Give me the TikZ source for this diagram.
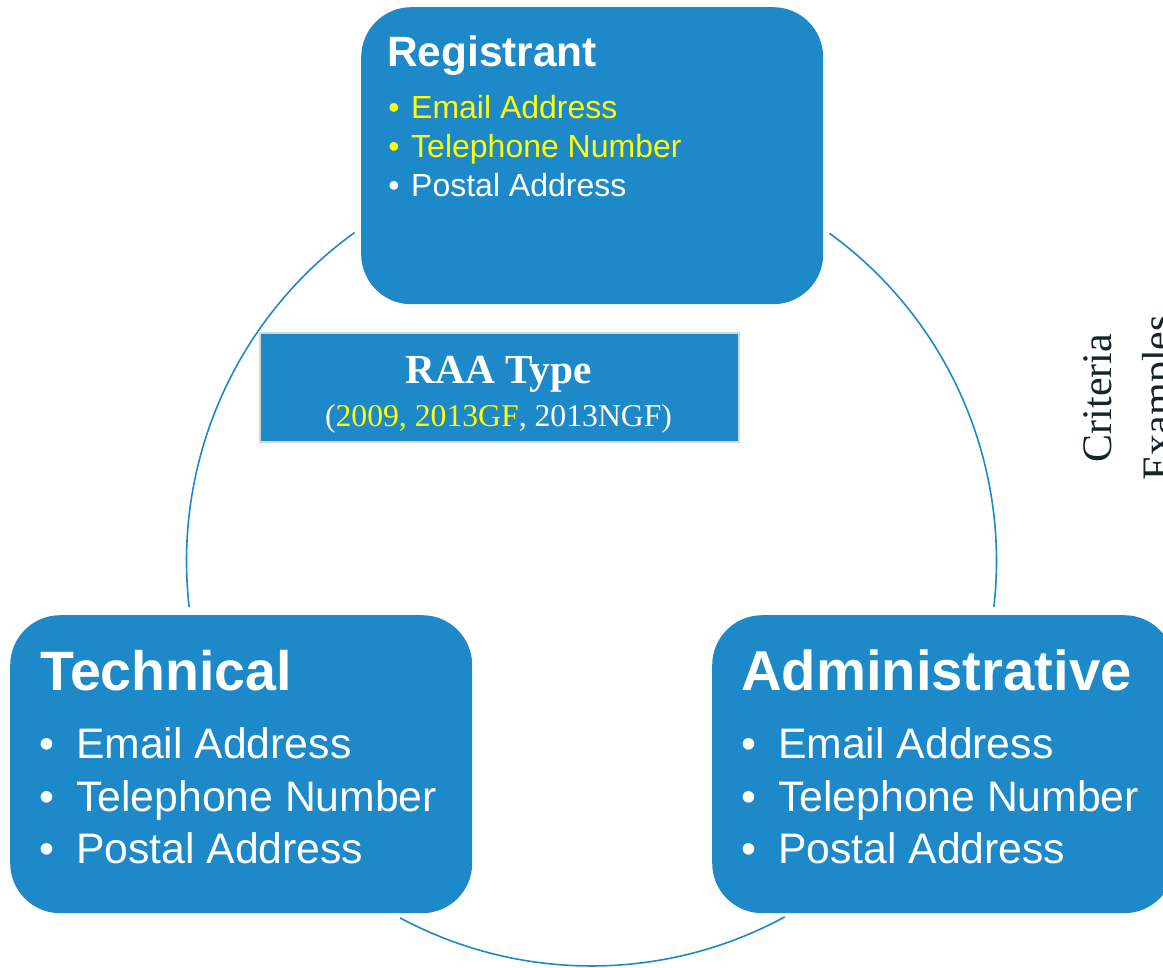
\documentclass[tikz,border=0pt]{standalone}
\usepackage{fontspec}
\setmainfont{Liberation Sans}
\newfontfamily\seriffont{Liberation Serif}
\definecolor{boxblue}{RGB}{29,137,200}
\definecolor{rim}{RGB}{214,214,214}
\definecolor{ink}{RGB}{22,36,40}
\definecolor{hl}{RGB}{255,255,0}
\tikzset{
  box/.style={fill=boxblue, draw=none, rounded corners=50pt, inner sep=0pt, anchor=north west},
  ring/.style={draw=boxblue, line width=1.6pt},
  txt/.style={text=white, inner sep=0pt, anchor=base west},
  ctxt/.style={text=white, inner sep=0pt, anchor=base},
  bul/.style={text=white, inner sep=0pt, anchor=base},
  side/.style={text=ink, inner sep=0pt, anchor=base, rotate=90, font=\seriffont\fontsize{42}{42}\selectfont}
}
\begin{document}
\begin{tikzpicture}[x=1pt,y=-1pt]
\useasboundingbox (0,0) rectangle (1163,968);
\clip (0,0) rectangle (1163,968);

% cycle ring arcs
\coordinate (c) at (591.5,561);
\path (c) ++(-125.8:405) coordinate (l1);
\path (c) ++(-54:405) coordinate (r1);
\path (c) ++(-241.8:405) coordinate (b1);
\draw[ring] (l1) arc[start angle=-125.8, end angle=-186.5, radius=405];
\draw[ring] (r1) arc[start angle=-54, end angle=6.5, radius=405];
\draw[ring] (b1) arc[start angle=-241.8, end angle=-298.5, radius=405];

% boxes
\node[box, minimum width=462pt, minimum height=297pt] (reg) at (361,7) {};
\node[box, minimum width=462pt, minimum height=298pt] (tec) at (10,615) {};
\node[box, minimum width=462pt, minimum height=298pt] (adm) at (712,615) {};

% Registrant
\begin{scope}[font=\fontsize{32}{32}\selectfont]
\node[txt, font=\bfseries\fontsize{42.4}{42.4}\selectfont] (regT) at (387,67) {Registrant};
\node[bul, text=hl] (regb1) at (394,119) {•};
\node[txt, text=hl] (reg1) at (411,119) {Email Address};
\node[bul, text=hl] (regb2) at (394,158) {•};
\node[txt, text=hl] (reg2) at (411,158) {Telephone Number};
\node[bul] (regb3) at (394,197) {•};
\node[txt] (reg3) at (411,197) {Postal Address};
\end{scope}

% Technical
\begin{scope}[font=\fontsize{42.7}{42.7}\selectfont]
\node[txt, font=\bfseries\fontsize{55.5}{55.5}\selectfont] (tecT) at (40,690) {Technical};
\node[bul] (tecb1) at (47,758) {•};
\node[txt] (tec1) at (76,758) {Email Address};
\node[bul] (tecb2) at (47,811) {•};
\node[txt] (tec2) at (76,811) {Telephone Number};
\node[bul] (tecb3) at (47,863) {•};
\node[txt] (tec3) at (76,863) {Postal Address};
\end{scope}

% Administrative
\begin{scope}[font=\fontsize{42.7}{42.7}\selectfont]
\node[txt, font=\bfseries\fontsize{56.2}{56.2}\selectfont] (admT) at (741,690) {Administrative};
\node[bul] (admb1) at (749,758) {•};
\node[txt] (adm1) at (778,758) {Email Address};
\node[bul] (admb2) at (749,811) {•};
\node[txt] (adm2) at (778,811) {Telephone Number};
\node[bul] (admb3) at (749,863) {•};
\node[txt] (adm3) at (778,863) {Postal Address};
\end{scope}

% RAA Type box
\node[fill=boxblue, draw=rim, line width=2pt, minimum width=479pt, minimum height=109pt, inner sep=0pt, anchor=north west] (raa) at (259,332) {};
\node[ctxt, font=\seriffont\bfseries\fontsize{41.3}{41.3}\selectfont] (raaT) at (498.5,384) {RAA Type};
\node[ctxt, font=\seriffont\fontsize{31.7}{31.7}\selectfont] (raaS) at (498.5,427) {(\textcolor{hl}{2009, 2013GF}, 2013NGF)};

% side text
\node[side] (crit) at (1111,398) {Criteria};
\node[side] (exmp) at (1171,398) {Examples};
\end{tikzpicture}
\end{document}
